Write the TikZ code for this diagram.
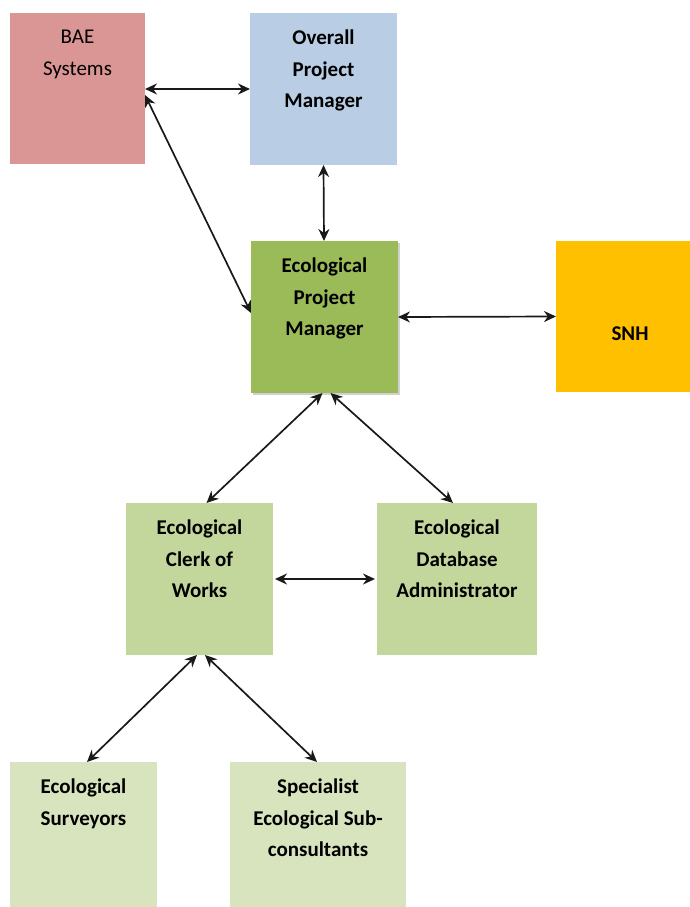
\documentclass[tikz,border=0pt]{standalone}
\usepackage{fontspec}
\setmainfont{Carlito}
\usetikzlibrary{arrows.meta,shadows}
\definecolor{baec}{HTML}{D99694}
\definecolor{opmc}{HTML}{B9CDE5}
\definecolor{epmc}{HTML}{9BBB59}
\definecolor{snhc}{HTML}{FFC000}
\definecolor{midc}{HTML}{C3D69B}
\definecolor{lowc}{HTML}{D7E4BD}
\tikzset{
  box/.style={draw=none, anchor=north west, inner sep=0pt, outer sep=0pt},
  lbl/.style={anchor=north, yshift=-17pt, align=center, inner sep=0pt,
              font=\fontsize{21}{31.5}\selectfont\bfseries},
  conn/.style={line width=1.7pt, draw=black!90, {Stealth[length=12pt,width=11pt]}-{Stealth[length=12pt,width=11pt]}}
}
\begin{document}
\begin{tikzpicture}[x=1pt,y=-1pt]
\useasboundingbox (0,0) rectangle (690,907);
\node[box, fill=baec, minimum width=135pt, minimum height=151pt,
  label={[lbl, font=\fontsize{21}{31.5}\selectfont]north:BAE\\Systems}] (bae) at (10,13) {};
\node[box, fill=opmc, minimum width=147pt, minimum height=152pt,
  label={[lbl]north:Overall\\Project\\Manager}] (opm) at (250,13) {};
\node[box, fill=epmc, minimum width=147pt, minimum height=152pt,
  drop shadow={shadow xshift=2pt, shadow yshift=-2pt, opacity=0.3, fill=black!60},
  label={[lbl]north:Ecological\\Project\\Manager}] (epm) at (251,241) {};
\node[box, fill=snhc, minimum width=134pt, minimum height=151pt,
  label={[lbl, anchor=center, yshift=0pt, xshift=7pt]center:SNH}] (snh) at (556,241) {};
\node[box, fill=midc, minimum width=147pt, minimum height=152pt,
  label={[lbl]north:Ecological\\Clerk of\\Works}] (clerk) at (126,503) {};
\node[box, fill=midc, minimum width=160pt, minimum height=152pt,
  label={[lbl]north:Ecological\\Database\\Administrator}] (db) at (377,503) {};
\node[box, fill=lowc, minimum width=147pt, minimum height=145pt,
  label={[lbl]north:Ecological\\Surveyors}] (surv) at (10,762) {};
\node[box, fill=lowc, minimum width=176pt, minimum height=145pt,
  label={[lbl]north:Specialist\\Ecological Sub-\\consultants}] (spec) at (230,762) {};

\draw[conn] ([yshift=-76pt]bae.north east) -- ([yshift=-76pt]opm.north west);
\draw[conn] ([yshift=-82pt]bae.north east) -- ([yshift=-72pt]epm.north west);
\draw[conn] (opm.south) -- ([xshift=-0.5pt]epm.north);
\draw[conn] (epm.east) -- (snh.west);
\draw[conn] ([xshift=-2pt]epm.south) -- ([xshift=7pt]clerk.north);
\draw[conn] ([xshift=6pt]epm.south) -- ([xshift=-4pt]db.north);
\draw[conn, shorten <=2pt, shorten >=2pt] (clerk.east) -- (db.west);
\draw[conn] ([xshift=-2.5pt]clerk.south) -- ([xshift=3.5pt]surv.north);
\draw[conn] ([xshift=5.5pt]clerk.south) -- ([xshift=-1pt]spec.north);
\end{tikzpicture}
\end{document}
